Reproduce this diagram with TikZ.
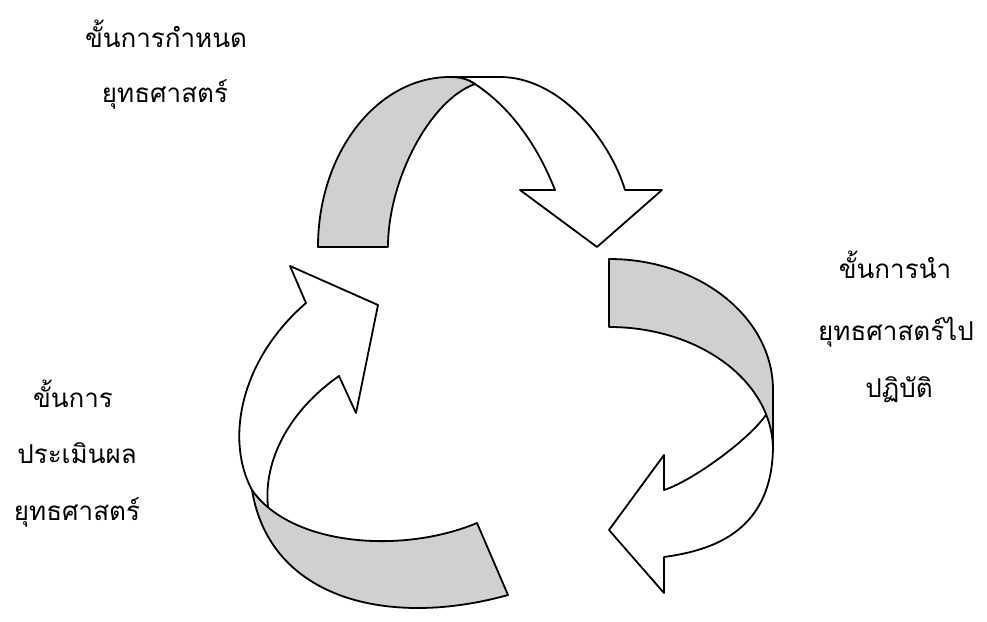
\documentclass[tikz,border=0pt]{standalone}
\usepackage{fontspec}
\newfontfamily\thaifont[Script=Thai]{Loma}
\definecolor{band}{RGB}{208,208,208}
\begin{document}
\begin{tikzpicture}[x=1pt,y=-1pt,line join=round,
  edge/.style={draw=black,line width=1.8pt},
  bandfill/.style={fill=band,draw=black,line width=1.8pt},
  lbl/.style={anchor=base,inner sep=0pt,font=\thaifont\fontsize{26}{30}\selectfont}]
\useasboundingbox[fill=white] (0,0) rectangle (987,621);
% top arrow (white part)
\path[edge] (450,77) -- (500,77) .. controls (560,77) and (610,140) .. (625,190)
  -- (662,190) -- (597,247) -- (520,190) -- (555,190)
  .. controls (547.6,171.4) and (525,117) .. (475,84)
  .. controls (469,80) and (462,77) .. (450,77);
% top arrow (grey part)
\path[bandfill] (318,247) .. controls (318,153) and (377,77) .. (450,77)
  .. controls (462,77) and (469,80) .. (475,84)
  .. controls (430,100) and (388,180) .. (388,247) -- cycle;
% right arrow (white part)
\path[edge] (773,445) .. controls (773,530) and (715,550) .. (664,557)
  -- (664,593) -- (609,530) -- (664,455) -- (664,490)
  .. controls (690,482) and (750,440) .. (768,412);
% right arrow (grey part)
\path[bandfill] (609,259) .. controls (699.6,259) and (773,317.6) .. (773,390)
  -- (773,450) .. controls (773,381.5) and (699.6,327) .. (609,327) -- cycle;
% left arrow (white part)
\path[edge] (252,490) .. controls (225,440) and (240,360) .. (306,303)
  -- (290,266) -- (378,305) -- (356,413) -- (339,376)
  .. controls (290,410) and (263,460) .. (268,507);
% left arrow (grey part)
\path[bandfill] (252,490) .. controls (290,545) and (400,555) .. (477,523)
  -- (508,595) .. controls (390,628) and (270,600) .. (252,490) -- cycle;
% labels
\node[lbl] (t1a) at (166,47) {ขั้นการกำหนด};
\node[lbl] (t1b) at (165,102) {ยุทธศาสตร์};
\node[lbl] (t2a) at (895,278) {ขั้นการนำ};
\node[lbl] (t2b) at (896,340) {ยุทธศาสตร์ไป};
\node[lbl] (t2c) at (899,397) {ปฏิบัติ};
\node[lbl] (t3a) at (73,407) {ขั้นการ};
\node[lbl] (t3b) at (77,463) {ประเมินผล};
\node[lbl] (t3c) at (77,520) {ยุทธศาสตร์};
\end{tikzpicture}
\end{document}
